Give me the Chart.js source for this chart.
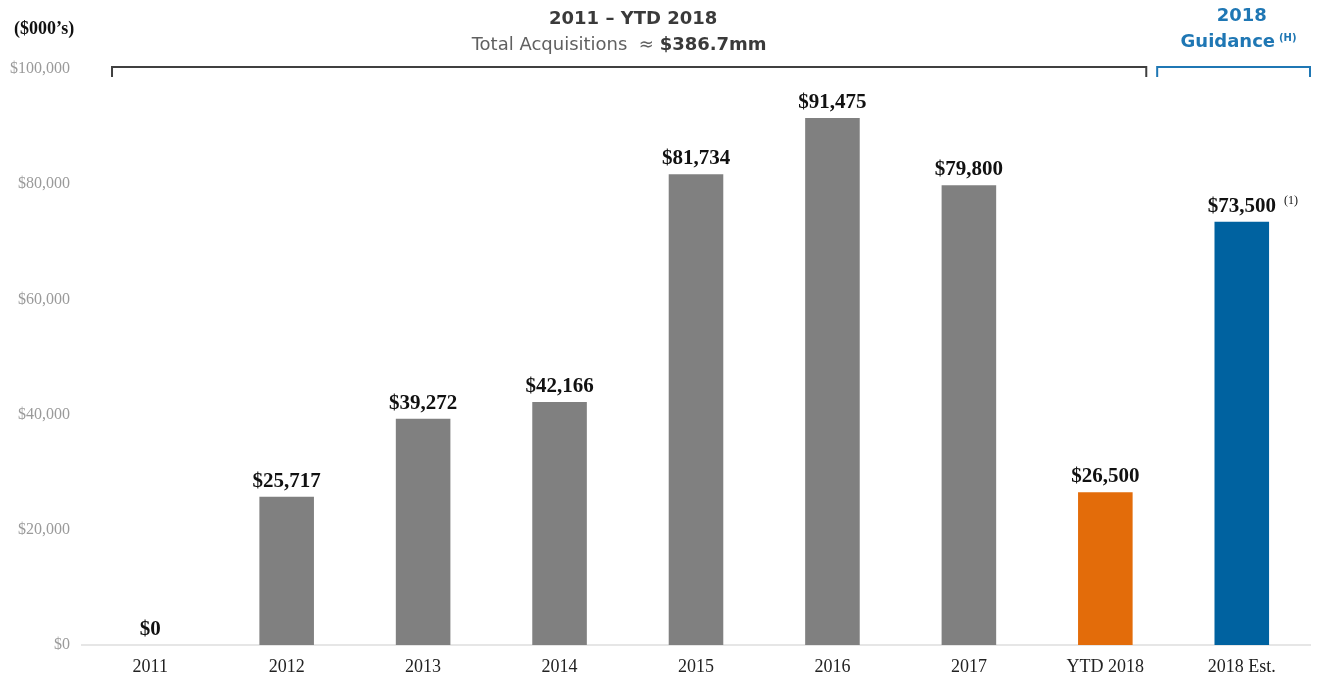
<!DOCTYPE html>
<html>
<head>
<meta charset="utf-8">
<script src="https://cdn.jsdelivr.net/npm/chart.js@4/dist/chart.umd.min.js"></script>
<style>
  html, body { margin: 0; padding: 0; background: #fff; }
  #wrap { width: 1321px; height: 684px; position: relative; }
</style>
</head>
<body>
<div id="wrap"><canvas id="acqChart"></canvas></div>
<script>
const categories = ["2011", "2012", "2013", "2014", "2015", "2016", "2017", "YTD 2018", "2018 Est."];
const acquisitions = [0, 25717, 39272, 42166, 81734, 91475, 79800, 26500, 73500];
const barColors = ["#808080", "#808080", "#808080", "#808080", "#808080", "#808080", "#808080", "#e36c0a", "#0062a0"];
const valueLabels = ["$0", "$25,717", "$39,272", "$42,166", "$81,734", "$91,475", "$79,800", "$26,500", "$73,500"];
const labelNotes = ["", "", "", "", "", "", "", "", "(1)"];
const yTicks = [0, 20000, 40000, 60000, 80000, 100000];

const serif = "'Liberation Serif', 'Times New Roman', serif";
const sans = "'DejaVu Sans', sans-serif";

const overlayPlugin = {
  id: "overlay",
  afterDatasetsDraw(chart) {
    const ctx = chart.ctx;
    const meta = chart.getDatasetMeta(0);
    const xScale = chart.scales.x;
    const area = chart.chartArea;

    // value labels above bars
    ctx.save();
    ctx.fillStyle = "#111";
    ctx.textBaseline = "alphabetic";
    meta.data.forEach((bar, i) => {
      ctx.font = "bold 21px " + serif;
      const text = valueLabels[i];
      const w = ctx.measureText(text).width;
      const y = bar.y - 10;
      ctx.textAlign = "center";
      ctx.fillText(text, bar.x, y);
      if (labelNotes[i]) {
        ctx.font = "12px " + serif;
        ctx.textAlign = "left";
        ctx.fillText(labelNotes[i], bar.x + w / 2 + 8, y - 8);
      }
    });
    ctx.restore();

    // brackets across the top
    const step = xScale.getPixelForValue(1) - xScale.getPixelForValue(0);
    const top = area.top - 2;
    const drawBracket = (x1, x2, color) => {
      ctx.save();
      ctx.strokeStyle = color;
      ctx.lineWidth = 2;
      ctx.beginPath();
      ctx.moveTo(x1, top + 10);
      ctx.lineTo(x1, top);
      ctx.lineTo(x2, top);
      ctx.lineTo(x2, top + 10);
      ctx.stroke();
      ctx.restore();
    };
    const grayStart = xScale.getPixelForValue(0) - step * 0.28;
    const grayEnd = xScale.getPixelForValue(7) + step * 0.3;
    const blueStart = xScale.getPixelForValue(8) - step * 0.62;
    const blueEnd = xScale.getPixelForValue(8) + step * 0.5;
    drawBracket(grayStart, grayEnd, "#404040");
    drawBracket(blueStart, blueEnd, "#1f77b4");

    // headings
    ctx.save();
    ctx.textAlign = "center";
    ctx.textBaseline = "middle";
    const grayMid = (grayStart + grayEnd) / 2;
    ctx.fillStyle = "#3a3a3a";
    ctx.font = "bold 18px " + sans;
    ctx.fillText("2011 \u2013 YTD 2018", grayMid + 4, 19);

    ctx.font = "18px " + sans;
    const part1 = "Total Acquisitions  \u2248 ";
    const w1 = ctx.measureText(part1).width;
    ctx.font = "bold 18px " + sans;
    const part2 = "$386.7mm";
    const w2 = ctx.measureText(part2).width;
    const sx = grayMid - 10 - (w1 + w2) / 2;
    ctx.textAlign = "left";
    ctx.font = "18px " + sans;
    ctx.fillStyle = "#606060";
    ctx.fillText(part1, sx, 45);
    ctx.font = "bold 18px " + sans;
    ctx.fillStyle = "#3a3a3a";
    ctx.fillText(part2, sx + w1, 45);

    const blueMid = xScale.getPixelForValue(8);
    ctx.fillStyle = "#1f77b4";
    ctx.textAlign = "center";
    ctx.font = "bold 18px " + sans;
    ctx.fillText("2018", blueMid, 16);
    const g = "Guidance";
    const gw = ctx.measureText(g).width;
    ctx.fillText(g, blueMid - 14, 42);
    ctx.font = "bold 10px " + sans;
    ctx.textAlign = "left";
    ctx.fillText("(H)", blueMid - 14 + gw / 2 + 4, 38);

    // units label
    ctx.fillStyle = "#111";
    ctx.font = "bold 18px " + serif;
    ctx.textAlign = "left";
    ctx.fillText("($000\u2019s)", 14, 29);
    ctx.restore();
  }
};

new Chart(document.getElementById("acqChart").getContext("2d"), {
  type: "bar",
  data: {
    labels: categories,
    datasets: [{
      data: acquisitions,
      backgroundColor: barColors,
      borderWidth: 0,
      barPercentage: 0.4,
      categoryPercentage: 1.0
    }]
  },
  options: {
    responsive: true,
    maintainAspectRatio: false,
    animation: false,
    layout: { padding: { top: 69, right: 11, bottom: 2, left: 0 } },
    plugins: {
      legend: { display: false },
      tooltip: { enabled: false }
    },
    scales: {
      x: {
        afterFit(axis) { axis.height = 37; },
        grid: { display: false, drawTicks: false },
        border: { color: "#e6e6e6", width: 2 },
        ticks: {
          color: "#222",
          font: { family: serif, size: 18 },
          padding: 11
        }
      },
      y: {
        min: 0,
        max: 100000,
        afterBuildTicks(axis) {
          axis.ticks = yTicks.map(v => ({ value: v }));
        },
        afterFit(axis) { axis.width = 82; },
        grid: { display: false, drawTicks: false },
        border: { display: false },
        ticks: {
          color: "#9a9a9a",
          font: { family: serif, size: 16 },
          padding: 12,
          callback: v => "$" + v.toLocaleString("en-US")
        }
      }
    }
  },
  plugins: [overlayPlugin]
});
</script>
</body>
</html>
